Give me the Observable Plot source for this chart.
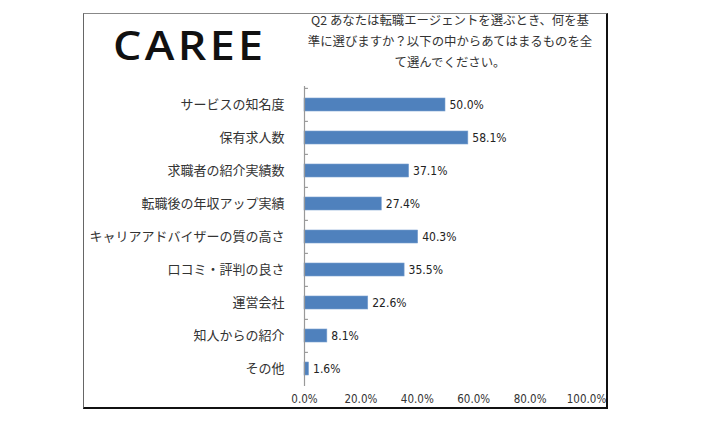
<!DOCTYPE html>
<html>
<head>
<meta charset="utf-8">
<script src="https://cdn.jsdelivr.net/npm/d3@7"></script>
<script src="https://cdn.jsdelivr.net/npm/@observablehq/plot@0.6"></script>
<style>
  html, body { margin: 0; padding: 0; background: #fff; }
  #wrap { position: relative; width: 703px; height: 424px; overflow: hidden; }
  #frame { position: absolute; left: 83px; top: 13px; width: 522px; height: 393px;
    border-left: 1px solid #666; border-top: 1px solid #888; border-right: 2px solid #111; border-bottom: 2px solid #111; }
  #brand { position: absolute; left: 113px; top: 20px; font-family: "Open Sans", sans-serif; font-weight: 600;
    font-size: 40px; letter-spacing: 3px; color: #111; line-height: 50px;
    transform: scaleX(1.12); transform-origin: left center; }
  #question { position: absolute; left: 294px; top: 10px; width: 312px; text-align: center;
    font-family: "Noto Sans CJK JP", sans-serif; font-size: 12.4px; line-height: 21px; color: #333; }
  #chart { position: absolute; left: 0; top: 0; }
</style>
</head>
<body>
<div id="wrap">
  <div id="frame"></div>
  <div id="brand">CAREE</div>
  <div id="question">Q2 あなたは転職エージェントを選ぶとき、何を基<br>準に選びますか？以下の中からあてはまるものを全<br>て選んでください。</div>
  <div id="chart"></div>
</div>
<script>
const categories = ["サービスの知名度", "保有求人数", "求職者の紹介実績数", "転職後の年収アップ実績", "キャリアアドバイザーの質の高さ", "口コミ・評判の良さ", "運営会社", "知人からの紹介", "その他"];
const values = [0.500, 0.581, 0.371, 0.274, 0.403, 0.355, 0.226, 0.081, 0.016];
const xTicks = [0, 0.2, 0.4, 0.6, 0.8, 1.0];

const data = categories.map((c, i) => ({category: c, value: values[i]}));
const fmt = d3.format(".1%");

const plot = Plot.plot({
  width: 703,
  height: 424,
  marginLeft: 304,
  marginRight: 117,
  marginTop: 86,
  marginBottom: 38,
  style: {background: "transparent", overflow: "visible"},
  x: {domain: [0, 1]},
  y: {domain: categories, padding: 0.62, paddingOuter: 0.31},
  marks: [
    Plot.barX(data, {x: "value", y: "category", fill: "#4f81bd", stroke: "#7aa0cf", strokeWidth: 0.6}),
    Plot.ruleY(categories, {y: d => d, x1: 0, x2: 0.014, dy: -300 / 9 / 2, stroke: "#888", strokeWidth: 1}),
    Plot.ruleX([0], {stroke: "#999", strokeWidth: 1.2}),
    Plot.ruleY([0], {frameAnchor: "bottom", stroke: "#999", strokeWidth: 1.2}),
    Plot.axisX({ticks: xTicks, tickFormat: d3.format(".1%"), tickSize: 0, tickPadding: 8,
      fontSize: 11.5, fontFamily: "DejaVu Sans Condensed, DejaVu Sans, sans-serif", fill: "#333", label: null}),
    Plot.axisY({tickSize: 0, tickPadding: 20, fontSize: 13, fontFamily: "Noto Sans CJK JP, sans-serif", fill: "#333", label: null}),
    Plot.text(data, {x: "value", y: "category", text: d => fmt(d.value), textAnchor: "start", dx: 4,
      fontSize: 12, fontFamily: "DejaVu Sans Condensed, DejaVu Sans, sans-serif", fill: "#222"})
  ]
});
document.getElementById("chart").appendChild(plot);
</script>
</body>
</html>
